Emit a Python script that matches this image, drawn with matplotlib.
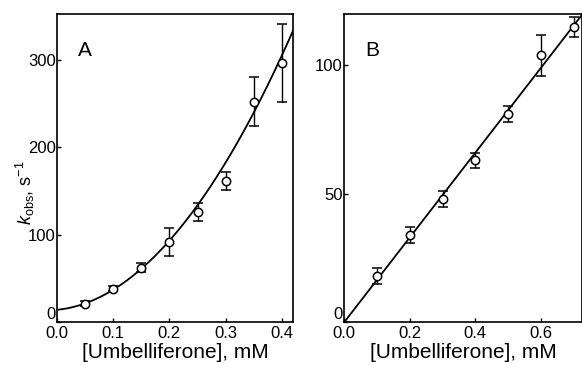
import numpy as np
import matplotlib
matplotlib.use("Agg")
import matplotlib.pyplot as plt

plt.rcParams['font.family'] = ['Liberation Sans', 'DejaVu Sans']
plt.rcParams['mathtext.fontset'] = 'custom'
plt.rcParams['mathtext.it'] = 'Liberation Sans:italic'
plt.rcParams['mathtext.rm'] = 'Liberation Sans'

# Panel A: k_obs vs umbelliferone (0-0.4 mM)
conc_a = [0.05, 0.10, 0.15, 0.20, 0.25, 0.30, 0.35, 0.40]
kobs_a = [21, 38, 62, 92, 126, 161, 252, 296]
err_a = [3, 3, 5, 16, 10, 10, 28, 45]
# second-order polynomial fit coefficients (c0 + c1*x + c2*x^2)
fit_a = [14.0, 64.5, 1655.0]

# Panel B: k_obs vs umbelliferone (0-0.7 mM)
conc_b = [0.1, 0.2, 0.3, 0.4, 0.5, 0.6, 0.7]
kobs_b = [18, 34, 48, 63, 81, 104, 115]
err_b = [3, 3, 3, 3, 3, 8, 4]
# linear fit slope through origin
slope_b = 165.0

xticks_a = [0.0, 0.1, 0.2, 0.3, 0.4]
yticks_a = [0, 100, 200, 300]
xticks_b = [0.0, 0.2, 0.4, 0.6]
yticks_b = [0, 50, 100]

fig = plt.figure(figsize=(5.82, 3.66), dpi=100)
ax_a = fig.add_axes([0.098, 0.120, 0.4055, 0.8415])
ax_b = fig.add_axes([0.5916, 0.120, 0.408, 0.8415])

err_style = dict(fmt='o', mfc='white', mec='black', ms=6, mew=1.1,
                 ecolor='black', elinewidth=1.0, capsize=3.5, capthick=1.0,
                 color='black', zorder=3)

# Panel A
xa = np.linspace(0, 0.42, 200)
ax_a.plot(xa, fit_a[0] + fit_a[1] * xa + fit_a[2] * xa ** 2, color='black', lw=1.3, zorder=2)
ax_a.errorbar(conc_a, kobs_a, yerr=err_a, **err_style)
ax_a.set_xlim(0, 0.42)
ax_a.set_ylim(0, 352)
ax_a.set_xticks(xticks_a)
ax_a.set_xticklabels([f"{v:.1f}" for v in xticks_a])
ax_a.set_yticks(yticks_a)
ax_a.set_xlabel("[Umbelliferone], mM", fontsize=15, labelpad=1)
ax_a.set_ylabel(r"$k_{\mathrm{obs}}$, s$^{\mathrm{-1}}$", fontsize=13)
ax_a.yaxis.set_label_coords(-0.085, 0.42)
ax_a.text(0.09, 0.912, "A", transform=ax_a.transAxes, fontsize=15, va='top', ha='left')

# Panel B
xb = np.linspace(0, 0.725, 50)
ax_b.plot(xb, slope_b * xb, color='black', lw=1.3, zorder=2)
ax_b.errorbar(conc_b, kobs_b, yerr=err_b, **err_style)
ax_b.set_xlim(0, 0.725)
ax_b.set_ylim(0, 120)
ax_b.set_xticks(xticks_b)
ax_b.set_xticklabels([f"{v:.1f}" for v in xticks_b])
ax_b.set_yticks(yticks_b)
ax_b.set_xlabel("[Umbelliferone], mM", fontsize=15, labelpad=1)
ax_b.text(0.09, 0.912, "B", transform=ax_b.transAxes, fontsize=15, va='top', ha='left')

for ax in (ax_a, ax_b):
    ax.tick_params(direction='in', length=3, width=1, labelsize=12)
    ax.tick_params(axis='x', pad=3)
    ax.tick_params(axis='y', pad=1)
    for sp in ax.spines.values():
        sp.set_linewidth(1.2)
    # raise the zero label so it sits above the x tick labels
    fig.canvas.draw()
    ax.get_yticklabels()[0].set_verticalalignment('bottom')

fig.savefig("out.png", dpi=100)
